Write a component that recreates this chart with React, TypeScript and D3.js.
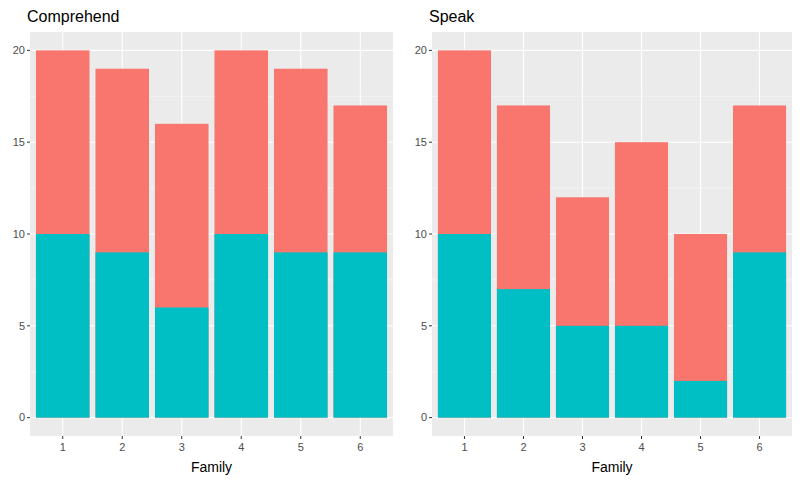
import React from "react";
import * as d3 from "d3";

const families = ["1", "2", "3", "4", "5", "6"];
const comprehendTotal = [20, 19, 16, 20, 19, 17];
const comprehendTeal = [10, 9, 6, 10, 9, 9];
const speakTotal = [20, 17, 12, 15, 10, 17];
const speakTeal = [10, 7, 5, 5, 2, 9];
const yTicks = [0, 5, 10, 15, 20];
const yMinor = [2.5, 7.5, 12.5, 17.5];

const W = 803;
const H = 482;
const top = 32;
const bottom = 436;

type PanelProps = {
  title: string;
  left: number;
  right: number;
  total: number[];
  teal: number[];
};

const Panel = ({ title, left, right, total, teal }: PanelProps) => {
  const x = d3.scaleBand().domain(families).range([left, right]).paddingInner(0.1).paddingOuter(0.1 * 0.5 + 0.6 * 0 + 0.05);
  x.padding(0.1);
  const y = d3.scaleLinear().domain([-1, 21]).range([bottom, top]);
  const xs = (f: string) => (x(f) ?? 0) + x.bandwidth() / 2;
  return (
    <g>
      <text x={left - 3} y={22} fontSize={16} fill="black" fontFamily="Liberation Sans, Arial">{title}</text>
      <rect x={left} y={top} width={right - left} height={bottom - top} fill="#EBEBEB" />
      {yMinor.map((t) => (
        <line key={"m" + t} x1={left} x2={right} y1={y(t)} y2={y(t)} stroke="white" strokeWidth={0.5} />
      ))}
      {yTicks.map((t) => (
        <line key={t} x1={left} x2={right} y1={y(t)} y2={y(t)} stroke="white" strokeWidth={1.1} />
      ))}
      {families.map((f) => (
        <line key={f} x1={xs(f)} x2={xs(f)} y1={top} y2={bottom} stroke="white" strokeWidth={1.1} />
      ))}
      {families.map((f, i) => (
        <g key={"b" + f}>
          <rect x={x(f)} width={x.bandwidth()} y={y(total[i])} height={y(0) - y(total[i])} fill="#F8766D" />
          <rect x={x(f)} width={x.bandwidth()} y={y(teal[i])} height={y(0) - y(teal[i])} fill="#00BFC4" />
        </g>
      ))}
      {yTicks.map((t) => (
        <g key={"yt" + t}>
          <line x1={left - 3} x2={left} y1={y(t)} y2={y(t)} stroke="#333" />
          <text x={left - 5} y={y(t)} dy="0.35em" textAnchor="end" fontSize={11} fill="#4D4D4D" fontFamily="Liberation Sans, Arial">{t}</text>
        </g>
      ))}
      {families.map((f) => (
        <g key={"xt" + f}>
          <line x1={xs(f)} x2={xs(f)} y1={bottom} y2={bottom + 3} stroke="#333" />
          <text x={xs(f)} y={bottom + 15} textAnchor="middle" fontSize={11} fill="#4D4D4D" fontFamily="Liberation Sans, Arial">{f}</text>
        </g>
      ))}
      <text x={(left + right) / 2} y={472} textAnchor="middle" fontSize={14} fill="black" fontFamily="Liberation Sans, Arial">Family</text>
    </g>
  );
};

export default function App() {
  return (
    <svg width={W} height={H} style={{ position: "absolute", left: 0, top: 0, background: "white" }}>
      <Panel title="Comprehend" left={30} right={393} total={comprehendTotal} teal={comprehendTeal} />
      <Panel title="Speak" left={432} right={792} total={speakTotal} teal={speakTeal} />
    </svg>
  );
}
